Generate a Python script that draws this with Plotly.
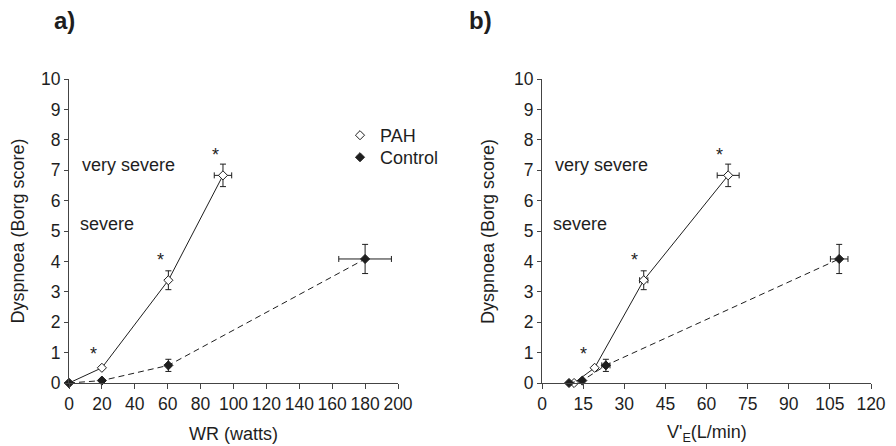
import plotly.graph_objects as go
from plotly.subplots import make_subplots

# ---- data (panel a: work rate) ----
wr_pah = [0, 20, 60.4, 93.6]
dys_pah = [0, 0.5, 3.38, 6.83]
dys_pah_err = [None, None, 0.31, 0.37]
wr_pah_err = [None, None, None, 5.3]

wr_ctl = [0, 20, 60.4, 180]
dys_ctl = [0, 0.08, 0.58, 4.08]
dys_ctl_err = [None, None, 0.2, 0.48]
wr_ctl_err = [None, None, None, 16]

# ---- data (panel b: ventilation) ----
ve_pah = [11.7, 19.2, 37.1, 67.9]
ve_pah_err = [None, None, 1.5, 4.0]
ve_ctl = [9.85, 14.7, 23.3, 108.4]
ve_ctl_err = [None, None, 1.5, 3.2]

star_a_x = [15, 55.5, 89.2]
star_b_x = [15.2, 33.9, 64.7]
star_y = [1.03, 4.1, 7.57]

xticks_a = [0, 20, 40, 60, 80, 100, 120, 140, 160, 180, 200]
xticks_b = [0, 15, 30, 45, 60, 75, 90, 105, 120]
yticks = list(range(0, 11))

W, H = 896, 446
FONT = "Liberation Sans, Arial, sans-serif"
INK = "#1e1e1e"

fig = make_subplots(rows=1, cols=2)

def add_series(x, y, xerr, yerr, filled, dash, col):
    fig.add_trace(go.Scatter(
        x=x, y=y, mode="lines+markers", showlegend=False,
        line=dict(color=INK, width=1, dash=dash),
        marker=dict(symbol="diamond", size=7,
                    color=INK if filled else "white",
                    line=dict(color=INK, width=1)),
        error_y=dict(type="data", array=yerr, visible=True, color=INK,
                     thickness=1, width=3),
        error_x=dict(type="data", array=xerr, visible=True, color=INK,
                     thickness=1, width=3),
        cliponaxis=False,
    ), row=1, col=col)

add_series(wr_pah, dys_pah, wr_pah_err, dys_pah_err, False, "solid", 1)
add_series(wr_ctl, dys_ctl, wr_ctl_err, dys_ctl_err, True, "6px,4px", 1)
add_series(ve_pah, dys_pah, ve_pah_err, dys_pah_err, False, "solid", 2)
add_series(ve_ctl, dys_ctl, ve_ctl_err, dys_ctl_err, True, "6px,4px", 2)

# legend-only entries (marker only), one legend box per entry
for name, filled, leg in (("PAH", False, "legend"), ("Control", True, "legend2")):
    fig.add_trace(go.Scatter(
        x=[None], y=[None], mode="markers", name=name, showlegend=True, legend=leg,
        marker=dict(symbol="diamond", size=7, color=INK if filled else "white",
                    line=dict(color=INK, width=1))), row=1, col=1)

axis_common = dict(showline=True, linecolor="#444", linewidth=1, ticks="outside",
                   tickcolor="#444", ticklen=5, showgrid=False, zeroline=False,
                   automargin=False,
                   tickfont=dict(size=17.5, color=INK, family=FONT))

y0, y1 = 1 - 383 / H, 1 - 79 / H
fig.update_xaxes(axis_common, row=1, col=1, range=[0, 200], tickvals=xticks_a,
                 domain=[69 / W, 398 / W])
fig.update_xaxes(axis_common, row=1, col=2, range=[0, 120], tickvals=xticks_b,
                 domain=[542 / W, 871 / W])
for c in (1, 2):
    fig.update_yaxes(axis_common, row=1, col=c, range=[0, 10], tickvals=yticks,
                     domain=[y0, y1], ticklen=4)

def txt(size):
    return dict(size=size, color=INK, family=FONT)

ann = []
for xs, xr, yr in ((star_a_x, "x", "y"), (star_b_x, "x2", "y2")):
    for sx, sy in zip(xs, star_y):
        ann.append(dict(x=sx, y=sy, xref=xr, yref=yr, text="*", showarrow=False,
                        xanchor="center", yanchor="middle", yshift=-2, font=txt(18)))
for xr, yr, vx, sx in (("x", "y", 6.7, 5.7), ("x2", "y2", 4.0, 3.1)):
    ann.append(dict(x=vx, y=7.17, xref=xr, yref=yr, text="very severe",
                    showarrow=False, xanchor="left", yanchor="middle", font=txt(18)))
    ann.append(dict(x=sx, y=5.23, xref=xr, yref=yr, text="severe",
                    showarrow=False, xanchor="left", yanchor="middle", font=txt(18)))

def paper_ann(px, py, text, size, angle=0):
    return dict(x=px / W, y=1 - py / H, xref="paper", yref="paper", text=text,
                showarrow=False, xanchor="center", yanchor="middle",
                textangle=angle, font=txt(size))

ann.append(paper_ann(64, 20, "<b>a)</b>", 24))
ann.append(paper_ann(480, 20, "<b>b)</b>", 24))
ann.append(paper_ann((69 + 398) / 2, 434, "WR (watts)", 18))
ann.append(paper_ann((542 + 871) / 2, 433, "V'<sub>E</sub>(L/min)", 18))
ann.append(paper_ann(17.5, 231, "Dyspnoea (Borg score)", 18, -90))
ann.append(paper_ann(488, 231, "Dyspnoea (Borg score)", 18, -90))

leg_common = dict(xanchor="left", yanchor="top", bgcolor="rgba(0,0,0,0)",
                  font=txt(18), itemwidth=30)
fig.update_layout(
    width=W, height=H, margin=dict(l=0, r=0, t=0, b=0, pad=0),
    paper_bgcolor="white", plot_bgcolor="white",
    annotations=ann,
    legend=dict(leg_common, x=340 / W, y=1 - 117 / H),
    legend2=dict(leg_common, x=340 / W, y=1 - 139 / H),
)

fig.write_html("out.html", config={"displayModeBar": False},
               post_script="document.body.style.margin='0px';")
